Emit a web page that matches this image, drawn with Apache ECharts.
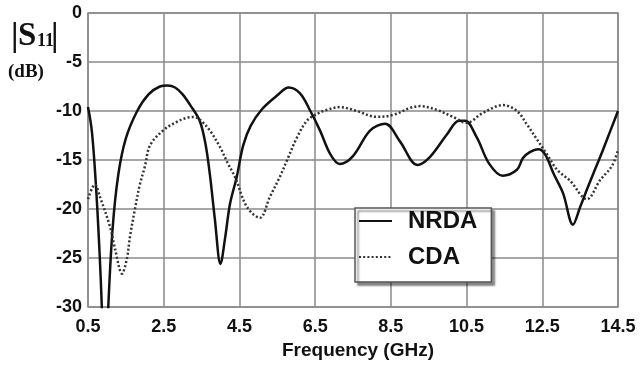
<!DOCTYPE html>
<html>
<head>
<meta charset="utf-8">
<script src="https://cdn.jsdelivr.net/npm/echarts@6/dist/echarts.min.js"></script>
<style>
  html, body {margin: 0; padding: 0; background: #fff;}
  #chart {width: 641px; height: 365px;}
</style>
</head>
<body>
<div id="chart"></div>
<script>
// tick labels
const xTicks = [0.5, 2.5, 4.5, 6.5, 8.5, 10.5, 12.5, 14.5]
const yTicks = [-30, -25, -20, -15, -10, -5, 0]

// NRDA (solid), dips below -30 near 0.95 GHz
const freqNRDA = [0.5, 0.6, 0.7, 0.8, 0.87, 0.95, 1.03, 1.15, 1.3, 1.5, 1.8, 2.1, 2.4, 2.6, 2.8, 3.0, 3.2, 3.45, 3.6, 3.72, 3.85, 4.0, 4.12, 4.25, 4.43, 4.6, 4.8, 5.1, 5.5, 5.8, 6.1, 6.36, 6.63, 6.9, 7.15, 7.5, 7.95, 8.35, 8.74, 9.2, 9.53, 9.98, 10.3, 10.46, 10.77, 11.1, 11.45, 11.83, 11.99, 12.17, 12.39, 12.57, 12.8, 13.05, 13.31, 13.5, 13.7, 13.9, 14.1, 14.3, 14.5]
const s11NRDA = [-9.6, -12, -17, -24, -30.5, -40, -30.5, -22, -16.5, -12.8, -10, -8.3, -7.5, -7.4, -7.6, -8.3, -9.4, -11, -13.3, -16.5, -21, -25.6, -23, -19.5, -16.7, -13.5, -11.5, -9.8, -8.4, -7.6, -8.2, -9.9, -12, -14.4, -15.4, -14.6, -12, -11.3, -13.1, -15.5, -14.7, -12.4, -11, -11, -12.7, -15.4, -16.6, -16, -14.8, -14.2, -13.9, -14.4, -16.4, -18.4, -21.6, -19.8, -17.8, -15.9, -14, -12, -10]

// CDA (dotted)
const freqCDA = [0.5, 0.68, 0.82, 1.08, 1.21, 1.4, 1.53, 1.61, 1.74, 1.87, 2.0, 2.14, 2.48, 2.8, 3.1, 3.3, 3.46, 3.72, 3.99, 4.2, 4.38, 4.7, 5.04, 5.3, 5.57, 5.76, 6.02, 6.28, 6.5, 6.8, 7.15, 7.6, 8.13, 8.56, 9.0, 9.27, 9.72, 10.14, 10.5, 10.93, 11.46, 11.83, 12.1, 12.36, 12.62, 12.89, 13.23, 13.68, 14.02, 14.34, 14.5]
const s11CDA = [-19, -17.5, -18.8, -21.8, -24, -26.6, -25, -22.8, -20, -17.5, -15.7, -13.5, -12, -11.2, -10.7, -10.6, -10.9, -12, -13.7, -15.4, -16.7, -19.8, -20.9, -18.8, -16.7, -15, -12.7, -11, -10.4, -9.9, -9.6, -10, -10.6, -10.4, -9.7, -9.5, -9.9, -10.6, -11.2, -10.2, -9.4, -10, -11.4, -12.9, -14.4, -16, -17.1, -19, -17.1, -15.6, -14]

const pairs = (xs, ys) => xs.map((x, i) => [x, ys[i]])

const chart = echarts.init(document.getElementById('chart'))
const font = 'Liberation Sans, Arial, sans-serif'
const serif = 'Liberation Serif, Times New Roman, serif'
const gridColor = '#8a8a8a'

chart.setOption({
  animation: false,
  backgroundColor: '#fff',
  grid: {
    left: 88, right: 23, top: 13, bottom: 53,
    show: true,
    borderColor: gridColor,
    borderWidth: 1.5
  },
  xAxis: {
    type: 'value',
    min: xTicks[0],
    max: xTicks[xTicks.length - 1],
    interval: 2,
    name: 'Frequency (GHz)',
    nameLocation: 'middle',
    nameGap: 34,
    nameTextStyle: {color: '#111', fontSize: 19, fontWeight: 'bold', fontFamily: font, padding: [0, 0, 0, 10]},
    axisLine: {show: false},
    axisTick: {show: false},
    splitLine: {show: true, lineStyle: {color: gridColor, width: 1.5}},
    axisLabel: {color: '#111', fontSize: 18, fontWeight: 'bold', fontFamily: font, margin: 11,
      formatter: v => v.toFixed(1)}
  },
  yAxis: {
    type: 'value',
    min: yTicks[0],
    max: yTicks[yTicks.length - 1],
    interval: 5,
    axisLine: {show: false},
    axisTick: {show: false},
    splitLine: {show: true, lineStyle: {color: gridColor, width: 1.5}},
    axisLabel: {color: '#111', fontSize: 18, fontWeight: 'bold', fontFamily: font, margin: 6}
  },
  legend: {
    left: 355,
    top: 208,
    orient: 'vertical',
    backgroundColor: '#fff',
    borderColor: '#555',
    borderWidth: 1.5,
    borderRadius: 0,
    shadowColor: 'rgba(0,0,0,0.45)',
    shadowBlur: 2,
    shadowOffsetX: 3,
    shadowOffsetY: 3,
    padding: [1, 14, 13, 3],
    itemWidth: 33,
    itemHeight: 24,
    itemGap: 12,
    itemStyle: {opacity: 0},
    textStyle: {color: '#111', fontSize: 24, fontWeight: 'bold', fontFamily: font,
      lineHeight: 24, padding: [0, 0, 0, 11]},
    data: ['NRDA', 'CDA']
  },
  graphic: [
    {type: 'text', left: 11, top: 20, style: {text: '|', font: 'bold 34px ' + serif, fill: '#111'}},
    {type: 'text', left: 18, top: 20, style: {text: 'S', font: 'bold 33px ' + serif, fill: '#111'}},
    {type: 'text', left: 37, top: 32, style: {text: '11', font: 'bold 18px ' + serif, fill: '#111'}},
    {type: 'text', left: 51, top: 20, style: {text: '|', font: 'bold 34px ' + serif, fill: '#111'}},
    {type: 'text', left: 8, top: 63, style: {text: '(dB)', font: 'bold 19px ' + serif, fill: '#111'}}
  ],
  series: [
    {
      name: 'NRDA',
      type: 'line',
      data: pairs(freqNRDA, s11NRDA),
      smooth: 0.35,
      symbol: 'none',
      clip: true,
      lineStyle: {color: '#111', width: 2.5},
      itemStyle: {color: '#111'}
    },
    {
      name: 'CDA',
      type: 'line',
      data: pairs(freqCDA, s11CDA),
      smooth: 0.35,
      symbol: 'none',
      clip: true,
      lineStyle: {color: '#333', width: 2.5, type: [2, 2.2]},
      itemStyle: {color: '#333'}
    }
  ]
})
</script>
</body>
</html>
